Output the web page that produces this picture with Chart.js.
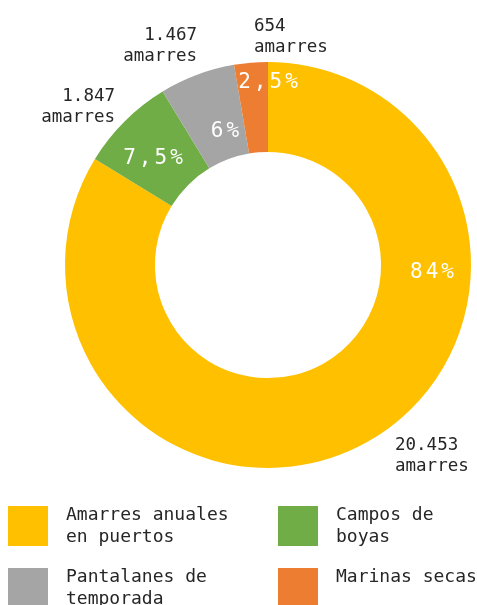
<!DOCTYPE html>
<html>
<head>
<meta charset="utf-8">
<script src="https://cdn.jsdelivr.net/npm/chart.js@4"></script>
<style>
  html,body{margin:0;padding:0;background:#fff;}
  #wrap{position:relative;width:477px;height:605px;overflow:hidden;}
</style>
</head>
<body>
<div id="wrap"><canvas id="chart" width="477" height="605"></canvas></div>
<script>
(function(){
  // data
  const categories = [['Amarres anuales','en puertos'], ['Campos de','boyas'], ['Pantalanes de','temporada'], ['Marinas secas']];
  const amarres = [20453, 1847, 1467, 654];
  const percentLabels = ['84%', '7,5%', '6%', '2,5%'];
  const colors = ['#FFC000', '#70AD47', '#A5A5A5', '#ED7D31'];

  // label placement (canvas px)
  const pctPos = [[432, 278], [153, 164], [225, 137], [268, 88]];
  const valPos = [[395, 450, 'left'], [115, 101, 'right'], [197, 40, 'right'], [254, 31, 'left']];
  const legendPos = [[8, 506], [278, 506], [8, 568], [278, 568]];

  const MONO = '"DejaVu Sans Mono", "Liberation Mono", monospace';
  const INK = '#262626';

  function fmt(n){
    return String(n).replace(/\B(?=(\d{3})+(?!\d))/g, '.');
  }

  const labelsPlugin = {
    id: 'labelsPlugin',
    afterDraw(chart){
      const ctx = chart.ctx;
      ctx.save();
      // percent labels inside the ring
      ctx.fillStyle = '#fff';
      ctx.font = '21px ' + MONO;
      ctx.textAlign = 'center';
      ctx.textBaseline = 'alphabetic';
      if('letterSpacing' in ctx) ctx.letterSpacing = '3px';
      percentLabels.forEach((t,i) => {
        const p = pctPos[i];
        ctx.fillText(t, p[0] + 1.5, p[1]);
      });
      if('letterSpacing' in ctx) ctx.letterSpacing = '0px';

      // value labels outside
      ctx.fillStyle = INK;
      ctx.font = '17.5px ' + MONO;
      amarres.forEach((v,i) => {
        const p = valPos[i];
        ctx.textAlign = p[2];
        ctx.fillText(fmt(v), p[0], p[1]);
        ctx.fillText('amarres', p[0], p[1] + 21);
      });

      // legend
      ctx.font = '18px ' + MONO;
      ctx.textAlign = 'left';
      categories.forEach((lines,i) => {
        const p = legendPos[i];
        ctx.fillStyle = colors[i];
        ctx.fillRect(p[0], p[1], 40, 40);
        ctx.fillStyle = INK;
        lines.forEach((ln,j) => {
          ctx.fillText(ln, p[0] + 58, p[1] + 14 + j * 22);
        });
      });
      ctx.restore();
    }
  };

  new Chart(document.getElementById('chart'), {
    type: 'doughnut',
    data: {
      labels: categories,
      datasets: [{
        data: amarres,
        backgroundColor: colors,
        borderWidth: 0,
        hoverOffset: 0
      }]
    },
    options: {
      responsive: false,
      animation: false,
      cutout: '55.7%',
      layout: { padding: { left: 65, right: 6, top: 62, bottom: 137 } },
      plugins: {
        legend: { display: false },
        tooltip: { enabled: false }
      }
    },
    plugins: [labelsPlugin]
  });
})();
</script>
</body>
</html>
